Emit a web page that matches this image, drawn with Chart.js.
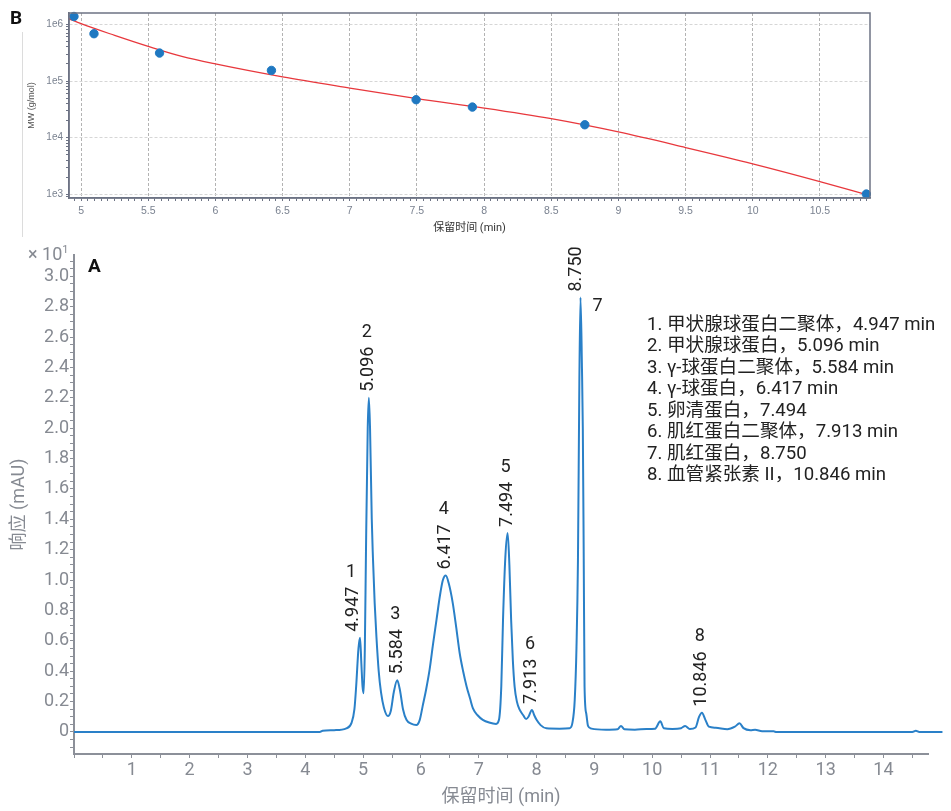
<!DOCTYPE html>
<html><head><meta charset="utf-8">
<script src="https://cdn.jsdelivr.net/npm/chart.js@4"></script>
<style>
body{margin:0;width:951px;height:811px;position:relative;background:#fff;overflow:hidden;font-family:Roboto,"Noto Sans CJK SC",sans-serif;}
canvas{position:absolute;left:0}
#cB{top:0}
#cA{top:240px}
.lbl{position:absolute;white-space:nowrap}
</style></head><body>
<canvas id="cB" width="951" height="240"></canvas>
<canvas id="cA" width="951" height="571"></canvas>
<div style="position:absolute;left:22px;top:32px;width:1px;height:205px;background:#dcdcdc"></div>
<div class="lbl" style="left:10px;top:6px;font-weight:bold;font-size:19px;color:#111;font-family:Roboto">B</div>
<div class="lbl" style="left:88px;top:254px;font-weight:bold;font-size:19px;color:#111;font-family:Roboto">A</div>
<div class="lbl" style="left:28px;top:243px;font-size:18px;color:#868a92;font-family:Roboto">× 10<span style="font-size:11px;vertical-align:7px">1</span></div>
<div id="legend" class="lbl" style="left:647px;top:314px;font-size:18.6px;line-height:21.45px;color:#222"></div>
<script>
// ---------- Calibration (B) ----------
const calibTime = [4.947, 5.096, 5.584, 6.417, 7.494, 7.913, 8.750, 10.846];
const calibMW   = [1.38e6, 6.85e5, 3.12e5, 1.54e5, 4.68e4, 3.47e4, 1.69e4, 1.01e3];
const fitTime = [4.91, 5.0, 5.25, 5.5, 5.75, 6.0, 6.5, 7.0, 7.5, 8.0, 8.5, 9.0, 9.5, 10.0, 10.5, 10.873];
const fitMW   = [1.26e6, 1.03e6, 6.4e5, 4.09e5, 2.72e5, 2.0e5, 1.18e5, 7.5e4, 4.87e4, 3.33e4, 2.16e4, 1.26e4, 6.7e3, 3.46e3, 1.68e3, 9.45e2];
const decades = [1e2, 1e3, 1e4, 1e5, 1e6];
const minorMultipliers = [1,2,3,4,5,6,7,8,9];

// ---------- Chromatogram (A) ----------
const chromTime = [0.00,4.25,4.30,4.50,4.71,4.80,4.85,4.88,4.92,4.947,4.97,4.99,5.01,5.03,5.05,5.08,5.10,5.12,5.15,5.17,5.20,5.23,5.27,5.31,5.36,5.43,5.48,5.53,5.59,5.64,5.69,5.75,5.83,5.92,5.98,6.03,6.09,6.15,6.21,6.27,6.33,6.38,6.43,6.48,6.55,6.61,6.67,6.73,6.79,6.85,6.90,6.98,7.07,7.18,7.30,7.35,7.39,7.42,7.46,7.50,7.53,7.56,7.59,7.62,7.66,7.71,7.77,7.82,7.86,7.92,7.96,8.00,8.07,8.17,8.40,8.57,8.62,8.66,8.69,8.716,8.74,8.76,8.785,8.80,8.815,8.83,8.86,8.89,8.95,9.20,9.40,9.46,9.52,9.70,9.90,10.05,10.14,10.20,10.35,10.50,10.57,10.65,10.75,10.81,10.86,10.92,10.98,11.10,11.30,11.43,11.51,11.58,11.70,11.78,11.90,12.10,12.15,14.50,14.56,14.62,15.02];
const chromSignal = [0.000,0.000,0.008,0.012,0.024,0.060,0.150,0.300,0.550,0.620,0.450,0.300,0.255,0.550,1.200,2.000,2.200,2.000,1.400,1.150,0.850,0.630,0.400,0.260,0.160,0.105,0.140,0.260,0.340,0.270,0.150,0.080,0.055,0.046,0.080,0.170,0.280,0.410,0.580,0.740,0.900,1.000,1.030,0.980,0.850,0.690,0.520,0.400,0.300,0.220,0.155,0.110,0.080,0.062,0.053,0.080,0.300,0.740,1.150,1.310,1.100,0.740,0.470,0.300,0.200,0.145,0.110,0.085,0.100,0.145,0.110,0.080,0.045,0.024,0.022,0.025,0.060,0.210,0.550,1.130,2.300,2.860,2.400,2.000,1.200,0.300,0.120,0.040,0.022,0.015,0.018,0.040,0.018,0.015,0.020,0.022,0.070,0.025,0.020,0.025,0.040,0.020,0.030,0.100,0.127,0.080,0.035,0.028,0.018,0.035,0.057,0.025,0.012,0.015,0.005,0.004,0.000,0.000,0.008,0.000,0.000];
const peakNumbers = ['1','2','3','4','5','6','7','8'];
const peakTimes = [4.947, 5.096, 5.584, 6.417, 7.494, 7.913, 8.750, 10.846];
const peakTimeLabels = ['4.947','5.096','5.584','6.417','7.494','7.913','8.750','10.846'];
const peakNames = ['甲状腺球蛋白二聚体，4.947 min','甲状腺球蛋白，5.096 min','γ-球蛋白二聚体，5.584 min','γ-球蛋白，6.417 min','卵清蛋白，7.494','肌红蛋白二聚体，7.913 min','肌红蛋白，8.750','血管紧张素 II，10.846 min'];
const xTickLabels = ['1','2','3','4','5','6','7','8','9','10','11','12','13','14'];

document.getElementById('legend').innerHTML = peakNames.map((n,i)=>peakNumbers[i]+'. '+n).join('<br>');

const AXIS_B = '#6d7384';
const frame = {
  id:'frame',
  afterDraw(c){ const a=c.chartArea, x=c.ctx; x.save(); x.strokeStyle=AXIS_B; x.lineWidth=1.5;
    x.strokeRect(a.left,a.top,a.right-a.left,a.bottom-a.top); x.restore(); }
};

new Chart(document.getElementById('cB'), {
  data:{ datasets:[
    {type:'scatter', data: calibTime.map((t,i)=>({x:t,y:calibMW[i]})), backgroundColor:'#1f78c1', borderColor:'#1f78c1', pointRadius:4.2, clip:false, order:0},
    {type:'line', data: fitTime.map((t,i)=>({x:t,y:fitMW[i]})), borderColor:'#e8383d', borderWidth:1.3, pointRadius:0, cubicInterpolationMode:'monotone', order:1}
  ]},
  options:{ responsive:false, animation:false, devicePixelRatio:1,
    layout:{padding:{top:13, right:81, left:0, bottom:0}},
    plugins:{legend:{display:false}, tooltip:{enabled:false}},
    scales:{
      x:{ type:'linear', min:4.91, max:10.873,
        afterFit: s=>{ s.height = 42; },
        ticks:{ stepSize:0.05, includeBounds:false, autoSkip:false, maxRotation:0, padding:4, color:'#7a8290',
          font:{family:'Liberation Sans, Arial', size:10.5},
          callback: v => { const h=Math.round(v*2*1000)/1000; if (Math.abs(h-Math.round(h))>1e-6) return ''; const r=Math.round(h)/2; return Number.isInteger(r)? String(r) : r.toFixed(1); } },
        grid:{ color: c => { const h=c.tick.value*2; return Math.abs(h-Math.round(h))<1e-6 ? '#b3b3b3' : 'rgba(0,0,0,0)'; }, tickColor:AXIS_B, tickLength:3, lineWidth:1 },
        border:{ color:AXIS_B, width:1.5, dash:[3,2] },
        title:{ display:true, text:'保留时间 (min)', color:'#333', font:{family:'Roboto, "Noto Sans CJK SC"', size:11}, padding:{top:0,bottom:5} }
      },
      y:{ type:'logarithmic', min:860, max:1.59e6,
        afterFit: s=>{ s.width = 69; },
        afterBuildTicks: s => { const t=[]; decades.forEach(d=>minorMultipliers.forEach(m=>{ const v=d*m; if (v>=s.min && v<=s.max) t.push({value:v}); })); s.ticks=t; },
        ticks:{ autoSkip:false, padding:3, color:'#7a8290', font:{family:'Liberation Sans, Arial', size:10},
          callback: v => { const e=Math.log10(v); return Math.abs(e-Math.round(e))<1e-9 ? '1e'+Math.round(e) : ''; } },
        grid:{ color: c => { const e=Math.log10(c.tick.value); return Math.abs(e-Math.round(e))<1e-9 ? '#d6d6d6' : 'rgba(0,0,0,0)'; }, tickColor:AXIS_B, tickLength:3 },
        border:{ color:AXIS_B, width:1.5, dash:[3,2] },
        title:{ display:true, text:'MW (g/mol)', color:'#555', font:{family:'Liberation Sans, Arial', size:9}, padding:{top:26,bottom:0} }
      }
    }
  },
  plugins:[frame]
});

// ---------- Chart A ----------
const peakLabelPlugin = {
  id:'peakLabels',
  afterDatasetsDraw(c, args, opts){
    const meta = c.getDatasetMeta(0), ctx = c.ctx;
    const shift = opts.shift || {};
    ctx.save();
    ctx.fillStyle = '#222';
    ctx.font = '18px Roboto, "Noto Sans CJK SC"';
    peakTimes.forEach((t,i)=>{
      let best=-1, bv=-1;
      chromTime.forEach((ct,j)=>{ if (Math.abs(ct-t)<=0.06 && chromSignal[j]>bv){ bv=chromSignal[j]; best=j; } });
      const p = meta.data[best];
      const lab = peakTimeLabels[i];
      const w = ctx.measureText(lab).width;
      const bx = p.x + 4.5 + (shift[i] || 0), py = p.y - 6;
      ctx.save(); ctx.translate(bx, py); ctx.rotate(-Math.PI/2);
      ctx.textAlign='left'; ctx.textBaseline='alphabetic'; ctx.fillText(lab,0,0); ctx.restore();
      ctx.textAlign='center'; ctx.textBaseline='alphabetic';
      if (i===6) { ctx.textAlign='left'; ctx.fillText(peakNumbers[i], p.x+12, p.y+13); }
      else ctx.fillText(peakNumbers[i], bx-6.5, py - w - 10);
    });
    ctx.restore();
  }
};

const GRAY = '#868a92';
new Chart(document.getElementById('cA'), {
  type:'line',
  data:{ datasets:[{ data: chromTime.map((t,i)=>({x:t,y:chromSignal[i]})), borderColor:'#2a80c8', borderWidth:2, pointRadius:0,
    cubicInterpolationMode:'monotone', clip:{left:0,top:0,right:20,bottom:0}, fill:false }]},
  options:{ responsive:false, animation:false, devicePixelRatio:1,
    layout:{padding:{top:15, right:23, left:0, bottom:0}},
    plugins:{legend:{display:false}, tooltip:{enabled:false}, peakLabels:{shift:{0:-7, 6:-4}}},
    scales:{
      x:{ type:'linear', min:0, max:14.77,
        afterFit: s=>{ s.height = 57; },
        ticks:{ stepSize:0.5, includeBounds:false, autoSkip:false, maxRotation:0, padding:2, color:GRAY, font:{family:'Roboto', size:18},
          callback: v => { const r=Math.round(v*1000)/1000; return (Number.isInteger(r) && r>0) ? xTickLabels[r-1] : ''; } },
        grid:{ drawOnChartArea:false, tickColor:'#8c9099', tickLength:4 },
        border:{ color:'#8c9099', width:2 },
        title:{ display:true, text:'保留时间 (min)', color:GRAY, font:{family:'Roboto, "Noto Sans CJK SC"', size:18}, padding:{top:0,bottom:3} }
      },
      y:{ type:'linear', min:-0.145, max:3.14,
        afterFit: s=>{ s.width = 74; },
        ticks:{ stepSize:0.05, includeBounds:false, autoSkip:false, padding:1, color:GRAY, font:{family:'Roboto', size:18},
          callback: v => { const r=Math.round(v*1000)/1000; const q=r/0.2; if (Math.abs(q-Math.round(q))>1e-6) return ''; return r===0 ? '0' : r.toFixed(1); } },
        grid:{ drawOnChartArea:false, tickColor:'#8c9099', tickLength:4 },
        border:{ color:'#8c9099', width:2 },
        title:{ display:true, text:'响应 (mAU)', color:GRAY, font:{family:'Roboto, "Noto Sans CJK SC"', size:18}, padding:{top:9,bottom:0} }
      }
    }
  },
  plugins:[peakLabelPlugin]
});
</script>
</body></html>
